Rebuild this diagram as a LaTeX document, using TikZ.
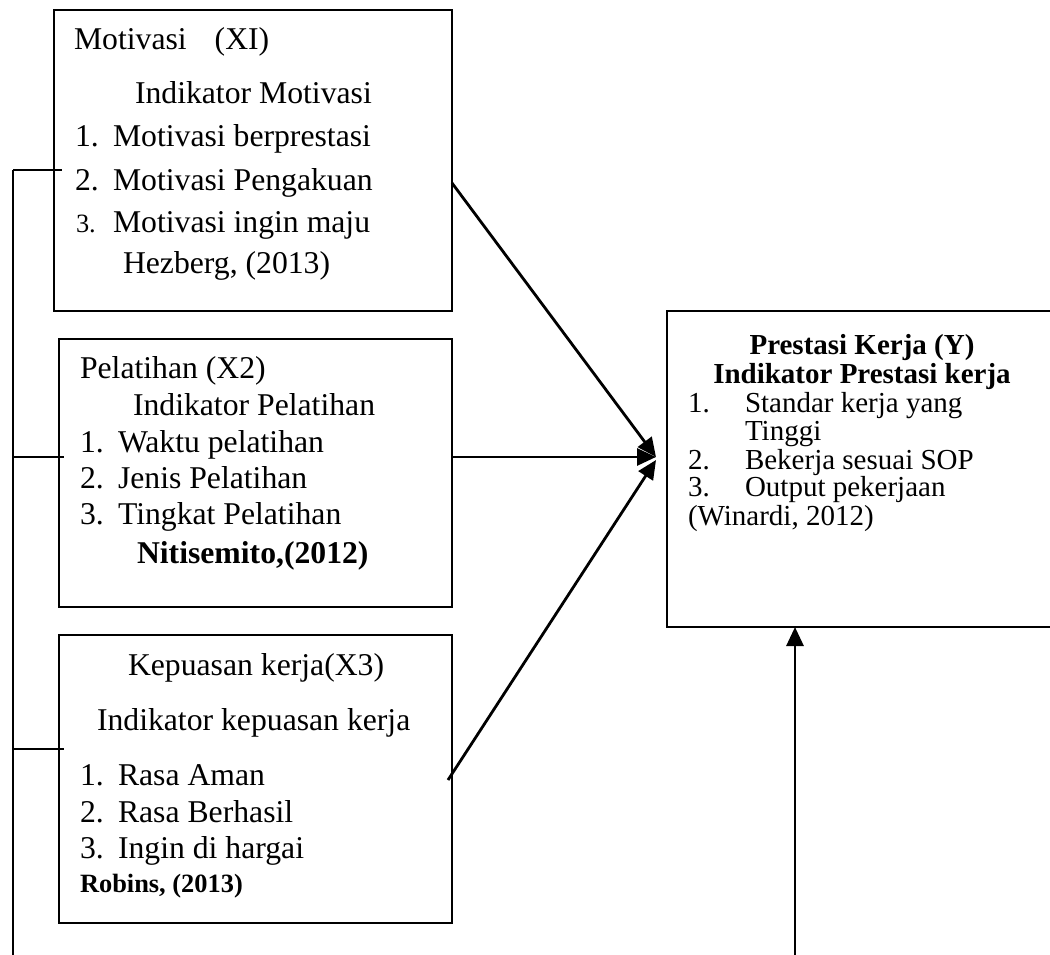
\documentclass[tikz,border=0pt]{standalone}
\usepackage{fontspec}
\setmainfont{Liberation Serif}
\usetikzlibrary{arrows.meta,calc}
\tikzset{
  frame/.style={draw=black, line width=2.2pt, inner sep=0pt, outer sep=0pt, anchor=north west},
  txt/.style={inner sep=0pt, outer sep=0pt, anchor=base west, font=\fontsize{31.7}{38}\selectfont},
  txtsm/.style={txt, font=\fontsize{26.4}{32}\selectfont},
  txtbsm/.style={txt, font=\fontsize{26.4}{32}\selectfont\bfseries},
  txtb/.style={txt, font=\fontsize{31.7}{38}\selectfont\bfseries},
  rtxt/.style={inner sep=0pt, outer sep=0pt, anchor=base west, font=\fontsize{29}{35}\selectfont},
  rtxtb/.style={inner sep=0pt, outer sep=0pt, anchor=base, font=\fontsize{29}{35}\selectfont\bfseries},
  link/.style={line width=2.2pt},
  arr/.style={line width=2.8pt, -{Triangle[length=19pt,width=17pt]}}
}
\begin{document}
\begin{tikzpicture}[x=1pt,y=-1pt]
\useasboundingbox (0,0) rectangle (1050,955);
% boxes
\node[frame, minimum width=398pt, minimum height=301pt] (b1) at (54,10) {};
\node[frame, minimum width=393pt, minimum height=268pt] (b2) at (59,339) {};
\node[frame, minimum width=393pt, minimum height=288pt] (b3) at (59,635) {};
\node[frame, minimum width=420pt, minimum height=316pt] (by) at (667,311) {};
% box 1 text
\node[txt] (t1h) at (74,50) {Motivasi\hspace{28pt}(XI)};
\node[txt] (t1i) at (135,104) {Indikator Motivasi};
\node[txt] (t1n1) at (75,147) {1.};
\node[txt] (t1a) at (113,147) {Motivasi berprestasi};
\node[txt] (t1n2) at (75,190) {2.};
\node[txt] (t1b) at (113,190) {Motivasi Pengakuan};
\node[txtsm] (t1n3) at (76,232) {3.};
\node[txt] (t1c) at (113,232) {Motivasi ingin maju};
\node[txt] (t1s) at (123,273) {Hezberg, (2013)};
% box 2 text
\node[txt] (t2h) at (80,378) {Pelatihan (X2)};
\node[txt] (t2i) at (133,415) {Indikator Pelatihan};
\node[txt] (t2n1) at (80,452) {1.};
\node[txt] (t2a) at (118,452) {Waktu pelatihan};
\node[txt] (t2n2) at (80,488) {2.};
\node[txt] (t2b) at (118,488) {Jenis Pelatihan};
\node[txt] (t2n3) at (80,524) {3.};
\node[txt] (t2c) at (118,524) {Tingkat Pelatihan};
\node[txtb] (t2s) at (137,563) {Nitisemito,(2012)};
% box 3 text
\node[txt] (t3h) at (128,675) {Kepuasan kerja(X3)};
\node[txt] (t3i) at (97,730) {Indikator kepuasan kerja};
\node[txt] (t3n1) at (80,785) {1.};
\node[txt] (t3a) at (118,785) {Rasa Aman};
\node[txt] (t3n2) at (80,822) {2.};
\node[txt] (t3b) at (118,822) {Rasa Berhasil};
\node[txt] (t3n3) at (80,858) {3.};
\node[txt] (t3c) at (118,858) {Ingin di hargai};
\node[txtbsm] (t3s) at (80,892) {Robins, (2013)};
% right box text
\node[rtxtb] (tyh) at (862,354) {Prestasi Kerja (Y)};
\node[rtxtb] (tyi) at (862,383) {Indikator Prestasi kerja};
\node[rtxt] (tyn1) at (688,412) {1.};
\node[rtxt] (tya) at (745,412) {Standar kerja yang};
\node[rtxt] (tya2) at (745,440) {Tinggi};
\node[rtxt] (tyn2) at (688,469) {2.};
\node[rtxt] (tyb) at (745,469) {Bekerja sesuai SOP};
\node[rtxt] (tyn3) at (688,496) {3.};
\node[rtxt] (tyc) at (745,496) {Output pekerjaan};
\node[rtxt] (tys) at (688,525) {(Winardi, 2012)};
% connector coordinates
\coordinate (top) at (13,170);
\coordinate (bot) at (13,960);
\coordinate (j2) at (13,457);
\coordinate (j3) at (13,749);
\coordinate (tip) at (656,457);
\coordinate (s1) at (0,183);
\coordinate (s3) at (0,780);
\coordinate (yb) at (795,960);
% left bracket line
\draw[link] (top) -- (bot);
\draw[link] (top) -- ($(b1.west |- top)+(8,0)$);
\draw[link] (j2) -- ($(b2.west |- j2)+(5,0)$);
\draw[link] (j3) -- ($(b3.west |- j3)+(5,0)$);
% arrows to Y
\draw[arr] (b1.east |- s1) -- (tip);
\draw[arr] (b2.east |- tip) -- (tip);
\draw[arr] ($(b3.east |- s3)+(-4,0)$) -- ($(tip)+(0,3)$);
\draw[arr] (yb) -- (yb |- by.south);
\end{tikzpicture}
\end{document}
